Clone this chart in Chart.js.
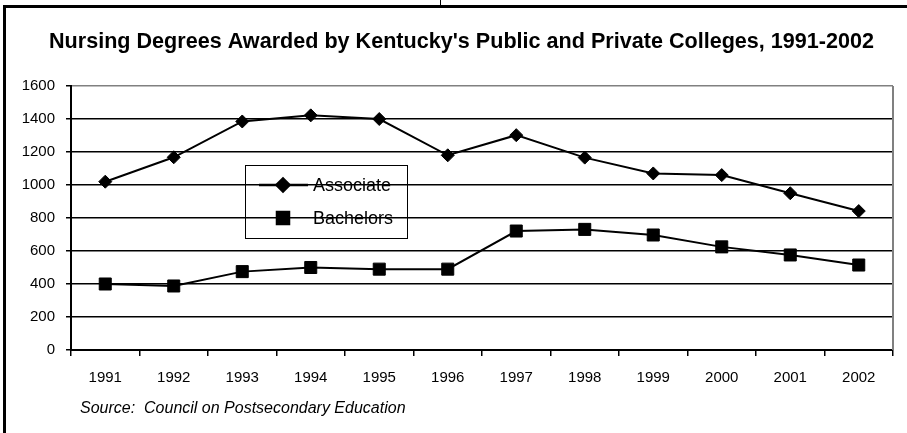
<!DOCTYPE html>
<html>
<head>
<meta charset="utf-8">
<script src="https://cdn.jsdelivr.net/npm/chart.js@4/dist/chart.umd.min.js"></script>
<style>
  html, body { margin: 0; padding: 0; background: #fff; }
  #wrap { width: 907px; height: 433px; position: relative; }
</style>
</head>
<body>
<div id="wrap"><canvas id="chart" width="907" height="433"></canvas></div>
<script>
const years = ['1991', '1992', '1993', '1994', '1995', '1996', '1997', '1998', '1999', '2000', '2001', '2002']
const associate = [1020, 1168, 1385, 1422, 1400, 1180, 1302, 1166, 1070, 1060, 950, 842]
const bachelors = [400, 388, 475, 500, 490, 490, 721, 731, 697, 625, 576, 515]
const yTicks = [0, 200, 400, 600, 800, 1000, 1200, 1400, 1600]

const titleText = "Nursing Degrees Awarded by Kentucky's Public and Private Colleges, 1991-2002"
const sourceText = 'Source:  Council on Postsecondary Education'

const sans = '"Liberation Sans", Arial, sans-serif'

// frame, title, source note, right gray border, legend box
const decor = {
    id: 'decor',
    beforeDraw(chart) {
        const ctx = chart.ctx
        ctx.save()
        ctx.fillStyle = '#fff'
        ctx.fillRect(0, 0, chart.width, chart.height)
        ctx.fillStyle = '#000'
        ctx.fillRect(3, 5, 904, 3)
        ctx.fillRect(3, 5, 3, 428)
        ctx.fillRect(440, 0, 1, 5)

        // title, squeezed to the width it has in the picture
        ctx.font = 'bold 22px ' + sans
        ctx.textBaseline = 'alphabetic'
        ctx.textAlign = 'left'
        const w = ctx.measureText(titleText).width
        ctx.translate(49, 48)
        ctx.scale(825 / w, 1)
        ctx.fillText(titleText, 0, 0)
        ctx.restore()

        ctx.save()
        ctx.font = 'italic 16px ' + sans
        ctx.fillStyle = '#000'
        ctx.textBaseline = 'alphabetic'
        ctx.fillText(sourceText, 80, 413)
        ctx.restore()
    },
    afterDraw(chart) {
        const ctx = chart.ctx
        const a = chart.chartArea
        ctx.save()
        ctx.strokeStyle = '#808080'
        ctx.lineWidth = 2
        ctx.beginPath()
        ctx.moveTo(a.right, a.top)
        ctx.lineTo(a.right, a.bottom)
        ctx.stroke()

        // legend
        ctx.strokeStyle = '#000'
        ctx.lineWidth = 1
        ctx.strokeRect(245.5, 165.5, 162, 73)
        const rows = [185, 218]
        ctx.font = '18px ' + sans
        ctx.textBaseline = 'middle'
        chart.data.datasets.forEach((ds, i) => {
            const y = rows[i]
            if (i === 0) {
                ctx.lineWidth = 2.5
                ctx.beginPath()
                ctx.moveTo(259, y)
                ctx.lineTo(308, y)
                ctx.stroke()
            }
            Chart.helpers.drawPoint(ctx, {
                pointStyle: ds.pointStyle,
                radius: ds.pointRadius,
                borderWidth: 1
            }, 283, y)
            ctx.fillStyle = '#000'
            ctx.fill()
            ctx.fillText(ds.label, 313, y + 1)
        })
        ctx.restore()
    }
}

new Chart(document.getElementById('chart').getContext('2d'), {
    type: 'line',
    data: {
        labels: years,
        datasets: [
            {
                label: 'Associate',
                data: associate,
                borderColor: '#000',
                backgroundColor: '#000',
                borderWidth: 2,
                pointStyle: 'rectRot',
                pointRadius: 6.5,
                pointBorderWidth: 1,
                tension: 0
            },
            {
                label: 'Bachelors',
                data: bachelors,
                borderColor: '#000',
                backgroundColor: '#000',
                borderWidth: 2,
                pointStyle: 'rect',
                pointRadius: 8.5,
                pointBorderWidth: 1,
                tension: 0
            }
        ]
    },
    options: {
        responsive: false,
        animation: false,
        events: [],
        layout: { padding: { left: 10, right: 14, top: 86, bottom: 43 } },
        plugins: {
            legend: { display: false },
            title: { display: false },
            tooltip: { enabled: false }
        },
        scales: {
            x: {
                type: 'category',
                offset: true,
                afterFit(scale) { scale.height = 40 },
                grid: {
                    offset: true,
                    drawOnChartArea: false,
                    drawTicks: true,
                    tickLength: 6,
                    color: '#000',
                    lineWidth: 1.5
                },
                border: { display: true, color: '#000', width: 2 },
                ticks: {
                    color: '#000',
                    font: { family: sans, size: 15 },
                    padding: 13,
                    maxRotation: 0,
                    autoSkip: false
                }
            },
            y: {
                min: 0,
                max: 1600,
                afterFit(scale) { scale.width = 61 },
                afterBuildTicks(scale) { scale.ticks = yTicks.map(v => ({ value: v })) },
                grid: {
                    color: ctx => ctx.tick && ctx.tick.value === 1600 ? '#808080' : '#000',
                    lineWidth: 1.5,
                    tickLength: 5,
                    tickColor: '#000'
                },
                border: { display: true, color: '#000', width: 2 },
                ticks: {
                    color: '#000',
                    font: { family: sans, size: 15 },
                    padding: 11,
                    callback: v => String(v)
                }
            }
        }
    },
    plugins: [decor]
})
</script>
</body>
</html>
